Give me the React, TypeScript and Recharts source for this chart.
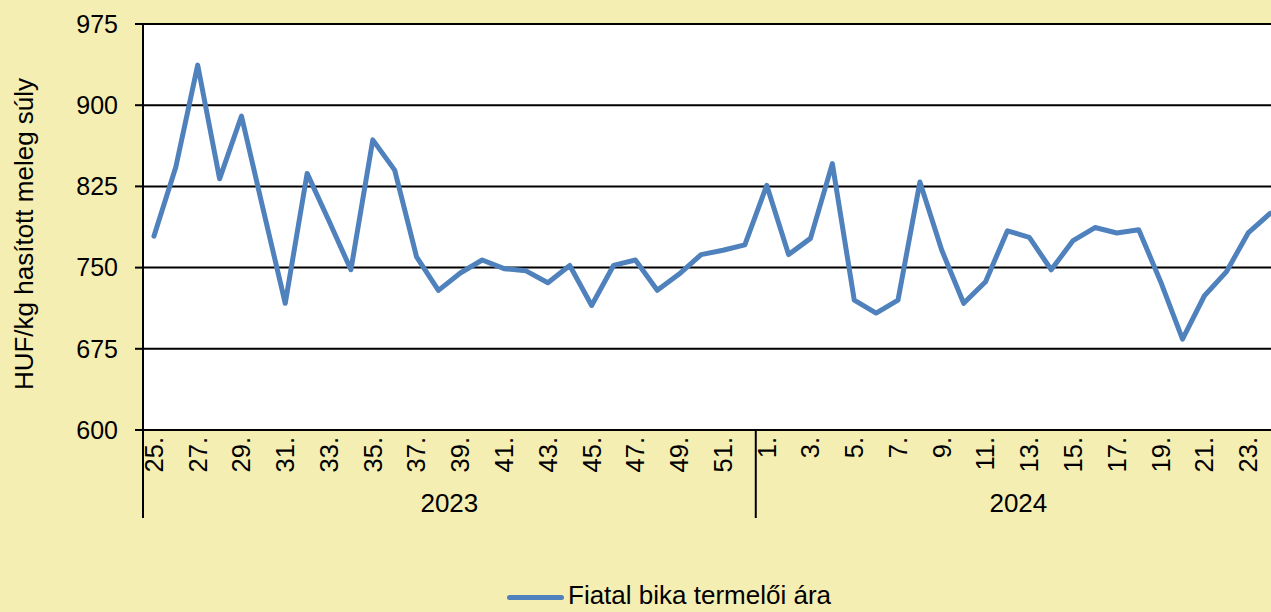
import React from 'react';
import { LineChart, Line, XAxis, YAxis, CartesianGrid, Legend, Label } from 'recharts';

const weeks2023 = ['25.', '26.', '27.', '28.', '29.', '30.', '31.', '32.', '33.', '34.', '35.', '36.', '37.', '38.', '39.', '40.', '41.', '42.', '43.', '44.', '45.', '46.', '47.', '48.', '49.', '50.', '51.', '52.'];
const weeks2024 = ['1.', '2.', '3.', '4.', '5.', '6.', '7.', '8.', '9.', '10.', '11.', '12.', '13.', '14.', '15.', '16.', '17.', '18.', '19.', '20.', '21.', '22.', '23.', '24.'];
const yearLabels = ['2023', '2024'];
const prices2023 = [779, 843, 937, 832, 890, 803, 717, 837, 793, 748, 868, 840, 760, 729, 745, 757, 749, 747, 736, 752, 715, 752, 757, 729, 744, 762, 766, 771];
const prices2024 = [826, 762, 777, 846, 720, 708, 720, 829, 766, 717, 737, 784, 778, 748, 775, 787, 782, 785, 737, 684, 724, 746, 782, 800];
const yTicks = [600, 675, 750, 825, 900, 975];
const seriesName = 'Fiatal bika termelői ára';
const yAxisTitle = 'HUF/kg hasított meleg súly';

const FONT = '"Liberation Sans", Arial, sans-serif';
const LINE_COLOR = '#4F81BD';
const BG = '#F5EEB2';

const weekLabels = [...weeks2023, ...weeks2024];
const prices = [...prices2023, ...prices2024];
const data = weekLabels.map((w, i) => ({ idx: i, week: w, price: prices[i] }));

const groupSizes = [weeks2023.length, weeks2024.length];
const boundaries: number[] = [-0.5];
const centers: number[] = [];
let acc = 0;
groupSizes.forEach((n) => {
  centers.push(acc + n / 2 - 0.5);
  acc += n;
  boundaries.push(acc - 0.5);
});
const labelTicks = data.filter((_, i) => i % 2 === 0).map((d) => d.idx);
const xTicks = [...boundaries, ...centers, ...labelTicks].sort((a, b) => a - b);

const XTick = (props: any) => {
  const { x, y, payload } = props;
  const v = payload.value;
  if (boundaries.includes(v)) {
    return <line x1={x} x2={x} y1={y} y2={y + 88} stroke="#000" strokeWidth={2} />;
  }
  const ci = centers.indexOf(v);
  if (ci >= 0) {
    return (
      <text x={x} y={y + 82} textAnchor="middle" fontSize={26} fontFamily={FONT} fill="#000">
        {yearLabels[ci]}
      </text>
    );
  }
  const d = data[v];
  if (!d) return null;
  const ty = y + 7;
  return (
    <text
      x={x}
      y={ty}
      dy="0.35em"
      textAnchor="end"
      transform={`rotate(-90, ${x}, ${ty})`}
      fontSize={25.5}
      fontFamily={FONT}
      fill="#000"
    >
      {d.week}
    </text>
  );
};

const YLabel = (props: any) => {
  const vb = props.viewBox || { x: 0, y: 24, width: 143, height: 406 };
  const cx = vb.x + 33;
  const cy = vb.y + vb.height / 2 + 7;
  return (
    <text
      transform={`translate(${cx}, ${cy}) rotate(-90)`}
      textAnchor="middle"
      fontSize={26}
      fontFamily={FONT}
      fill="#000"
    >
      {yAxisTitle}
    </text>
  );
};

const LegendContent = () => (
  <div style={{ display: 'flex', alignItems: 'center', height: 22, lineHeight: '22px', fontSize: 26, color: '#000', fontFamily: FONT, whiteSpace: 'nowrap' }}>
    <span style={{ display: 'inline-block', width: 57, height: 5, background: LINE_COLOR, borderRadius: 2.5, marginRight: 4, position: 'relative', top: 2 }} />
    <span>{seriesName}</span>
  </div>
);

export default function App() {
  return (
    <div style={{ position: 'fixed', left: 0, top: 0, width: 1271, height: 612, overflow: 'hidden', background: BG, fontFamily: FONT }}>
      <LineChart width={1281} height={612} data={data} margin={{ top: 24, right: 0, left: 0, bottom: 92 }}>
        <CartesianGrid vertical={false} stroke="#000" strokeWidth={2} fill="#FFFFFF" fillOpacity={1} />
        <XAxis
          dataKey="idx"
          type="number"
          domain={[-0.5, 51.5]}
          ticks={xTicks}
          interval={0}
          height={90}
          tickSize={0}
          tickMargin={0}
          tickLine={false}
          axisLine={{ stroke: '#000', strokeWidth: 2 }}
          tick={<XTick />}
          allowDataOverflow
        />
        <YAxis
          type="number"
          domain={[600, 975]}
          ticks={yTicks}
          width={143}
          interval={0}
          tickSize={8}
          tickMargin={17}
          tickLine={{ stroke: '#000', strokeWidth: 2 }}
          axisLine={{ stroke: '#000', strokeWidth: 2 }}
          tick={{ fontSize: 25, fill: '#000', fontFamily: FONT }}
          allowDataOverflow
        >
          <Label content={<YLabel />} />
        </YAxis>
        <Line
          type="linear"
          dataKey="price"
          name={seriesName}
          stroke={LINE_COLOR}
          strokeWidth={5}
          strokeLinejoin="round"
          strokeLinecap="round"
          dot={false}
          activeDot={false}
          isAnimationActive={false}
        />
        <Legend
          layout="horizontal"
          verticalAlign="middle"
          align="center"
          content={<LegendContent />}
          wrapperStyle={{ top: 584, left: 507, width: 500, height: 22 }}
        />
      </LineChart>
    </div>
  );
}
